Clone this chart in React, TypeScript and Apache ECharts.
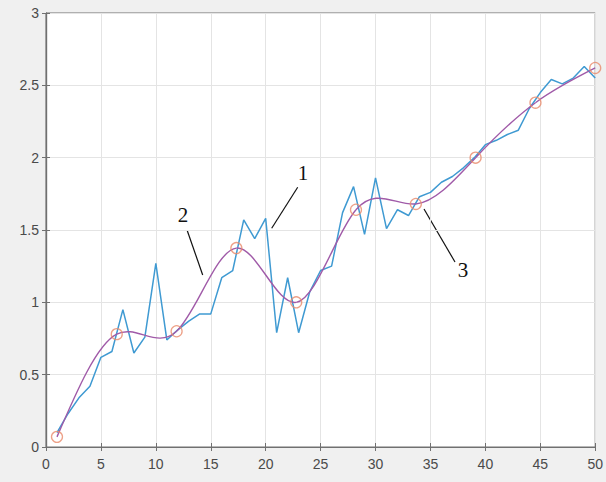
import React, { useEffect, useRef } from "react";
import * as echarts from "echarts";

const xTicks = [0, 5, 10, 15, 20, 25, 30, 35, 40, 45, 50];
const yTicks = [0, 0.5, 1, 1.5, 2, 2.5, 3];

const rawX = [
  1, 2, 3, 4, 5, 6, 7, 8, 9, 10, 11, 12, 13, 14, 15, 16, 17, 18, 19, 20, 21, 22, 23, 24, 25,
  26, 27, 28, 29, 30, 31, 32, 33, 34, 35, 36, 37, 38, 39, 40, 41, 42, 43, 44, 45, 46, 47, 48, 49, 50,
];
const rawY = [
  0.1, 0.23, 0.34, 0.42, 0.62, 0.66, 0.95, 0.65, 0.76, 1.27, 0.74, 0.81, 0.87, 0.92, 0.92, 1.17,
  1.22, 1.57, 1.44, 1.58, 0.79, 1.17, 0.79, 1.07, 1.22, 1.25, 1.62, 1.8, 1.47, 1.86, 1.51, 1.64,
  1.6, 1.73, 1.76, 1.83, 1.87, 1.93, 2.0, 2.09, 2.12, 2.16, 2.19, 2.34, 2.45, 2.54, 2.51, 2.55,
  2.63, 2.55,
];

const knotX = [1, 6.44, 11.89, 17.33, 22.78, 28.22, 33.67, 39.11, 44.56, 50];
const knotY = [0.07, 0.78, 0.8, 1.375, 1.0, 1.64, 1.68, 2.0, 2.38, 2.62];

const labels = ["1", "2", "3"];

// second derivatives of the natural cubic spline through the knots (rendering only)
function splineSecondDerivs(xs: number[], ys: number[]): number[] {
  const n = xs.length;
  const a = new Array(n).fill(0);
  const b = new Array(n).fill(1);
  const c = new Array(n).fill(0);
  const d = new Array(n).fill(0);
  for (let i = 1; i < n - 1; i++) {
    const h0 = xs[i] - xs[i - 1];
    const h1 = xs[i + 1] - xs[i];
    a[i] = h0;
    b[i] = 2 * (h0 + h1);
    c[i] = h1;
    d[i] = 6 * ((ys[i + 1] - ys[i]) / h1 - (ys[i] - ys[i - 1]) / h0);
  }
  for (let i = 1; i < n; i++) {
    const m = a[i] / b[i - 1];
    b[i] -= m * c[i - 1];
    d[i] -= m * d[i - 1];
  }
  const M = new Array(n).fill(0);
  M[n - 1] = d[n - 1] / b[n - 1];
  for (let i = n - 2; i >= 0; i--) M[i] = (d[i] - c[i] * M[i + 1]) / b[i];
  return M;
}

export default function App() {
  const ref = useRef<HTMLDivElement>(null);
  useEffect(() => {
    document.body.style.margin = "0";
    const chart = echarts.init(ref.current!, null, { renderer: "svg" });
    const axisColor = "#707070";
    const labelStyle = {
      color: "#4a4a4a",
      fontFamily: "Liberation Sans, Arial, sans-serif",
      fontSize: 14,
    };
    const textFont = "Liberation Serif, Times New Roman, serif";
    const M = splineSecondDerivs(knotX, knotY);

    chart.setOption({
      animation: false,
      backgroundColor: "#f0f0f0",
      grid: {
        left: 46,
        right: 10,
        top: 13,
        bottom: 35,
        show: true,
        backgroundColor: "#ffffff",
        borderColor: axisColor,
        borderWidth: 1,
      },
      xAxis: [
        {
          type: "value",
          min: 0,
          max: 50,
          interval: 5,
          position: "bottom",
          axisLine: { show: true, lineStyle: { color: axisColor, width: 1.2 } },
          axisTick: { show: true, inside: true, length: 4, lineStyle: { color: axisColor } },
          axisLabel: {
            ...labelStyle,
            margin: 10,
            formatter: (v: number) => (xTicks.includes(v) ? String(v) : ""),
          },
          splitLine: { show: true, lineStyle: { color: "#e4e4e4", width: 1 } },
        },
        {
          type: "value",
          min: 0,
          max: 50,
          interval: 5,
          position: "top",
          axisLine: { show: true, lineStyle: { color: axisColor, width: 1.2 } },
          axisTick: { show: true, inside: true, length: 4, lineStyle: { color: axisColor } },
          axisLabel: { show: false },
          splitLine: { show: false },
        },
      ],
      yAxis: [
        {
          type: "value",
          min: 0,
          max: 3,
          interval: 0.5,
          position: "left",
          axisLine: { show: true, lineStyle: { color: axisColor, width: 1.2 } },
          axisTick: { show: true, inside: true, length: 4, lineStyle: { color: axisColor } },
          axisLabel: {
            ...labelStyle,
            margin: 7,
            formatter: (v: number) => (yTicks.includes(v) ? String(v) : ""),
          },
          splitLine: { show: true, lineStyle: { color: "#e4e4e4", width: 1 } },
        },
        {
          type: "value",
          min: 0,
          max: 3,
          interval: 0.5,
          position: "right",
          axisLine: { show: true, lineStyle: { color: axisColor, width: 1.2 } },
          axisTick: { show: true, inside: true, length: 4, lineStyle: { color: axisColor } },
          axisLabel: { show: false },
          splitLine: { show: false },
        },
      ],
      series: [
        {
          type: "line",
          data: rawX.map((x, i) => [x, rawY[i]]),
          showSymbol: false,
          symbol: "none",
          lineStyle: { color: "#3f9ad2", width: 1.5 },
          z: 2,
        },
        {
          type: "custom",
          coordinateSystem: "cartesian2d",
          data: knotX.map((x, i) => [x, knotY[i]]),
          z: 3,
          renderItem: (params: any, api: any) => {
            const i = params.dataIndex;
            if (i >= knotX.length - 1) return null;
            const x0 = knotX[i];
            const x1 = knotX[i + 1];
            const y0 = knotY[i];
            const y1 = knotY[i + 1];
            const h = x1 - x0;
            const s0 = (y1 - y0) / h - (h * (2 * M[i] + M[i + 1])) / 6;
            const s1 = (y1 - y0) / h + (h * (M[i] + 2 * M[i + 1])) / 6;
            const p0 = api.coord([x0, y0]);
            const p1 = api.coord([x1, y1]);
            const c0 = api.coord([x0 + h / 3, y0 + (s0 * h) / 3]);
            const c1 = api.coord([x1 - h / 3, y1 - (s1 * h) / 3]);
            return {
              type: "bezierCurve",
              shape: {
                x1: p0[0],
                y1: p0[1],
                cpx1: c0[0],
                cpy1: c0[1],
                cpx2: c1[0],
                cpy2: c1[1],
                x2: p1[0],
                y2: p1[1],
              },
              style: { stroke: "#a05aa8", lineWidth: 1.4, fill: "none" },
            };
          },
        },
        {
          type: "scatter",
          data: knotX.map((x, i) => [x, knotY[i]]),
          symbol: "circle",
          symbolSize: 11,
          itemStyle: { color: "rgba(0,0,0,0)", borderColor: "#e8896a", borderWidth: 1.3 },
          z: 4,
        },
      ],
      graphic: [
        {
          type: "line",
          shape: { x1: 297.7, y1: 187.3, x2: 271.7, y2: 228.3 },
          style: { stroke: "#111", lineWidth: 1.2 },
        },
        {
          type: "text",
          x: 303,
          y: 173,
          style: {
            text: labels[0],
            font: `21px ${textFont}`,
            fill: "#111",
            align: "center",
            verticalAlign: "middle",
          },
        },
        {
          type: "line",
          shape: { x1: 187.3, y1: 230.7, x2: 202.7, y2: 275 },
          style: { stroke: "#111", lineWidth: 1.2 },
        },
        {
          type: "text",
          x: 183,
          y: 215,
          style: {
            text: labels[1],
            font: `21px ${textFont}`,
            fill: "#111",
            align: "center",
            verticalAlign: "middle",
          },
        },
        {
          type: "line",
          shape: { x1: 424, y1: 209, x2: 455, y2: 262 },
          style: { stroke: "#111", lineWidth: 1.2 },
        },
        {
          type: "text",
          x: 463,
          y: 270,
          style: {
            text: labels[2],
            font: `21px ${textFont}`,
            fill: "#111",
            align: "center",
            verticalAlign: "middle",
          },
        },
      ],
    });
    return () => chart.dispose();
  }, []);
  return <div ref={ref} style={{ width: 606, height: 482 }} />;
}
